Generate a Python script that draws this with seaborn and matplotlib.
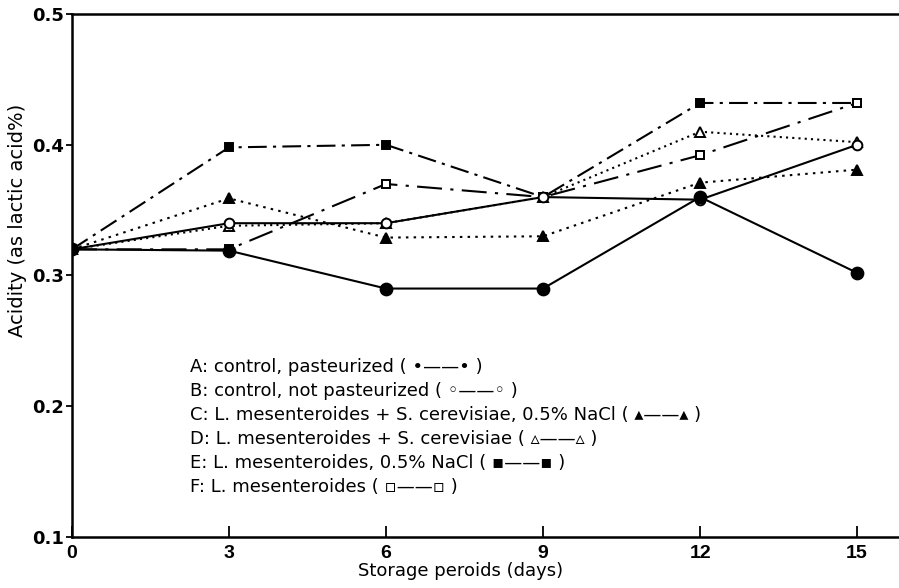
import matplotlib
matplotlib.use("Agg")
import matplotlib.pyplot as plt
import seaborn as sns
import pandas as pd

# data
days = [0, 3, 6, 9, 12, 15]
acid_a = [0.32, 0.319, 0.29, 0.29, 0.36, 0.302]
acid_b = [0.32, 0.34, 0.34, 0.36, 0.358, 0.40]
acid_c = [0.32, 0.359, 0.329, 0.33, 0.371, 0.381]
acid_d = [0.32, 0.338, 0.34, 0.36, 0.41, 0.402]
acid_e = [0.32, 0.398, 0.40, 0.36, 0.432, 0.432]
acid_f = [0.32, 0.32, 0.37, 0.36, 0.392, 0.432]

legend_lines = [
    "A: control, pasteurized ( •——• )",
    "B: control, not pasteurized ( ◦——◦ )",
    "C: L. mesenteroides + S. cerevisiae, 0.5% NaCl ( ▴——▴ )",
    "D: L. mesenteroides + S. cerevisiae ( ▵——▵ )",
    "E: L. mesenteroides, 0.5% NaCl ( ▪——▪ )",
    "F: L. mesenteroides ( ▫——▫ )",
]
y_ticks = [0.1, 0.2, 0.3, 0.4, 0.5]

sns.set_theme(style="white")
plt.rcParams["font.family"] = ["DejaVu Sans"]
plt.rcParams["text.color"] = "black"
plt.rcParams["axes.labelcolor"] = "black"
plt.rcParams["xtick.color"] = "black"
plt.rcParams["ytick.color"] = "black"

fig = plt.figure(figsize=(8.99, 5.88), dpi=100)
ax = fig.add_axes([0.080, 0.087, 0.92, 0.889])

series = [
    # values, marker, filled, linestyle, size
    (acid_e, "s", True, (0, (9, 3, 1.5, 3)), 5.5),
    (acid_f, "s", False, (0, (12, 4, 1.5, 4)), 6),
    (acid_d, "^", False, (0, (1, 2)), 7.5),
    (acid_c, "^", True, (0, (1.2, 2.5)), 7.5),
    (acid_b, "o", False, "-", 7),
    (acid_a, "o", True, "-", 8.5),
]

for vals, mk, filled, ls, ms in series:
    df = pd.DataFrame({"day": days, "acid": vals})
    sns.lineplot(
        data=df, x="day", y="acid", ax=ax, estimator=None,
        color="black", linestyle=ls, linewidth=1.5,
        marker=mk, markersize=ms, markeredgewidth=1.4,
        markeredgecolor="black",
        markerfacecolor="black" if filled else "white",
    )

ax.set_xlim(0, 15.8)
ax.set_ylim(0.1, 0.5)
ax.set_xticks(days)
ax.set_xticklabels([str(d) for d in days], fontsize=14, fontweight="bold",
                   family="Liberation Sans")
ax.set_yticks(y_ticks)
ax.set_yticklabels([f"{v:.1f}" for v in y_ticks], fontsize=13,
                   fontweight="bold")

ax.tick_params(axis="x", direction="in", length=8, width=1.3, pad=6, bottom=True)
ax.tick_params(axis="y", direction="out", length=4, width=1.3, pad=2, left=True)

for side in ["left", "top", "bottom"]:
    ax.spines[side].set_linewidth(1.8)
    ax.spines[side].set_color("black")
ax.spines["right"].set_visible(False)

ax.set_xlabel("Storage peroids (days)", fontsize=13)
ax.xaxis.set_label_coords(0.47, -0.048)
ax.set_ylabel("Acidity (as lactic acid%)", fontsize=14)
ax.yaxis.set_label_coords(-0.054, 0.606)

for i, line in enumerate(legend_lines):
    ax.text(0.1427, 0.325 - i * 0.0459, line, transform=ax.transAxes,
            fontsize=13, va="center", ha="left")

fig.savefig("out.png", dpi=100)
